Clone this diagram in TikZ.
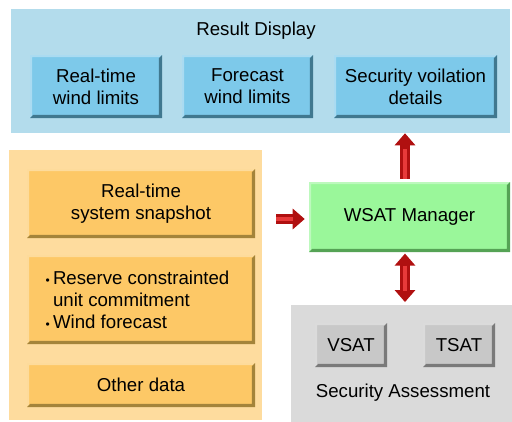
\documentclass[tikz,border=0pt]{standalone}
\usepackage{fontspec}
\setmainfont{Liberation Sans}
\usetikzlibrary{fit,positioning,arrows.meta}
\definecolor{rdpanel}{HTML}{B3DCEC}
\definecolor{rdbox}{HTML}{7DC9EA}
\definecolor{rdedge}{HTML}{40788F}
\definecolor{inpanel}{HTML}{FEDC9E}
\definecolor{inbox}{HTML}{FDC866}
\definecolor{inedge}{HTML}{A4843A}
\definecolor{wsatfill}{HTML}{9AF79A}
\definecolor{wsatedge}{HTML}{55A355}
\definecolor{sapanel}{HTML}{DADADA}
\definecolor{sabox}{HTML}{C8C8C8}
\definecolor{saedge}{HTML}{7A7A7A}
\definecolor{arrowred}{HTML}{B01010}
\definecolor{arrowglint}{HTML}{E83A3A}

\newcommand{\bevelpath}[1]{%
  \fill[white, opacity=0.35] (path picture bounding box.north west)
    -- (path picture bounding box.north east)
    -- ([shift={(-1.6pt,-1.6pt)}]path picture bounding box.north east)
    -- ([shift={(1.6pt,-1.6pt)}]path picture bounding box.north west)
    -- ([shift={(1.6pt,1.6pt)}]path picture bounding box.south west)
    -- (path picture bounding box.south west)
    -- cycle;
  \fill[#1] (path picture bounding box.north east)
    -- (path picture bounding box.south east)
    -- (path picture bounding box.south west)
    -- ([shift={(2.3pt,2.3pt)}]path picture bounding box.south west)
    -- ([shift={(-2.3pt,2.3pt)}]path picture bounding box.south east)
    -- ([shift={(-2.3pt,-2.3pt)}]path picture bounding box.north east)
    -- cycle;}

\begin{document}
\begin{tikzpicture}[
    x=0.75pt, y=-0.75pt,
    every node/.style={font=\fontsize{14}{16.5}\selectfont, align=center},
    panel/.style={inner sep=0pt, draw=none},
    rdbx/.style={inner sep=0pt, fill=rdbox, path picture={\bevelpath{rdedge}}},
    inbx/.style={inner sep=0pt, fill=inbox, path picture={\bevelpath{inedge}}},
    mgrbx/.style={inner sep=0pt, fill=wsatfill, path picture={\bevelpath{wsatedge}}},
    sabx/.style={inner sep=0pt, fill=sabox, path picture={\bevelpath{saedge}}},
    fatarrow/.style={draw=arrowred, line width=7.5pt,
        -{Triangle[width=15pt,length=9pt]}},
    fatboth/.style={draw=arrowred, line width=7.5pt,
        {Triangle[width=15pt,length=9pt]}-{Triangle[width=15pt,length=9pt]}},
    glint/.style={draw=arrowglint, line width=2.5pt}
]
  \useasboundingbox (0,0) rectangle (512,422);

  % panels
  \node[panel, fill=rdpanel, fit={(11,9) (510,133)}] (display) {};
  \node[panel, fill=inpanel, fit={(9,150) (262,420)}] (inputs) {};
  \node[panel, fill=sapanel, fit={(291,305) (512,422)}] (assess) {};

  \node (displaytitle) at (256,31) {Result Display};
  \node (assesstitle) at (403,393) {Security Assessment};

  % result boxes
  \node[rdbx, fit={(30,55) (162,118)}] (rtlimits) {};
  \node[rdbx, fit={(182,55) (313,118)}] (fclimits) {};
  \node[rdbx, fit={(334,55) (497,118)}] (violation) {};
  \node at (rtlimits.center) (rtlimitstext) {Real-time\\wind limits};
  \node at (fclimits.center) (fclimitstext) {Forecast\\wind limits};
  \node at (violation.center) (violationtext) {Security voilation\\details};

  % input boxes
  \node[inbx, fit={(27,169) (255,238)}] (snapshot) {};
  \node[inbx, fit={(27,255) (255,344)}] (commit) {};
  \node[inbx, fit={(27,363) (255,407)}] (other) {};
  \node at (snapshot.center) (snapshottext) {Real-time\\system snapshot};
  \node[anchor=west, align=left] (committext) at (41,302)
    {\begin{tabular}{@{}l@{\,}l@{}}
     {\small\textbullet} & Reserve constrainted\\
                         & unit commitment\\
     {\small\textbullet} & Wind forecast
     \end{tabular}};
  \node at (other.center) (othertext) {Other data};

  % manager and assessment tools
  \node[mgrbx, fit={(309,182) (510,252)}] (manager) {};
  \node at (manager.center) (managertext) {WSAT Manager};
  \node[sabx, fit={(315,323) (387,367)}] (vsat) {};
  \node[sabx, fit={(423,323) (495,367)}] (tsat) {};
  \node at (vsat.center) (vsattext) {VSAT};
  \node at (tsat.center) (tsattext) {TSAT};

  % arrows
  \coordinate (upfrom) at (405,179);
  \coordinate (inright) at (276,219);
  \draw[fatarrow] (upfrom) -- (upfrom |- display.south);
  \draw[glint] (upfrom) -- ([yshift=-12pt]upfrom |- display.south);
  \draw[fatarrow] (inright) -- ([xshift=-3pt]inright -| manager.west);
  \draw[glint] (inright) -- ([xshift=-12pt]inright -| manager.west);
  \draw[fatboth] ([yshift=-1pt]manager.south -| upfrom)
    -- ([yshift=2pt]assess.north -| upfrom);
  \draw[glint] ([yshift=-10pt]manager.south -| upfrom)
    -- ([yshift=10pt]assess.north -| upfrom);
\end{tikzpicture}
\end{document}
